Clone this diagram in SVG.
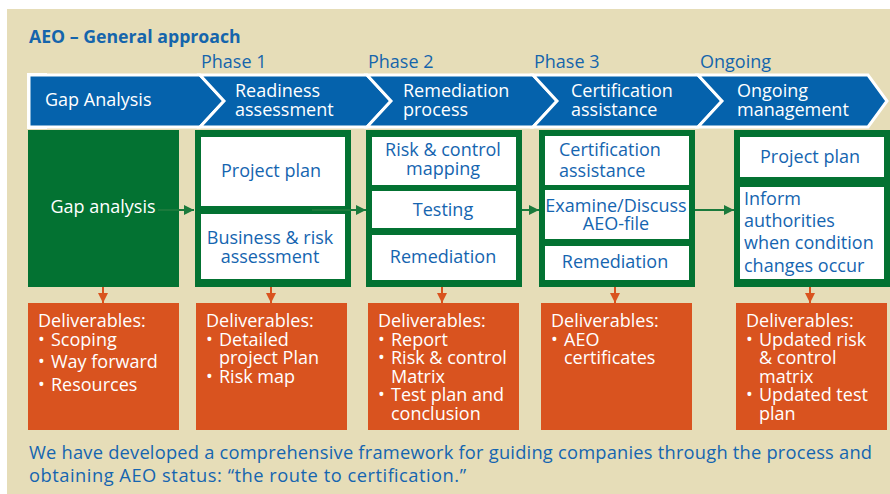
<svg xmlns="http://www.w3.org/2000/svg" width="890" height="494" viewBox="0 0 890 494">
<defs>
<style>
text{font-family:"Open Sans","Noto Sans","Liberation Sans",sans-serif;font-size:18px}
.title{font-weight:bold;fill:#1565ac;font-size:17.7px}
.phase{fill:#1565ac}
.chev{fill:#0562ac;stroke:#fff;stroke-width:3;stroke-linejoin:miter}
.cw{fill:#fff}
.gbox{fill:#037232}
.wbox{fill:#fff}
.bt{fill:#1565b0}
.obox{fill:#d9531f}
.gl{stroke:#1b7a3c;stroke-width:2;fill:none}
.ol{stroke:#d9531f;stroke-width:2;fill:none}
.foot{fill:#1565b0;font-size:18.3px}
</style>
<marker id="ga" viewBox="0 0 10 10" refX="10" refY="5" markerWidth="5" markerHeight="5" orient="auto" markerUnits="strokeWidth"><path d="M0,0 L10,5 L0,10 z" fill="#1b7a3c"/></marker>
<marker id="oa" viewBox="0 0 10 10" refX="10" refY="5" markerWidth="5" markerHeight="5" orient="auto" markerUnits="strokeWidth"><path d="M0,0 L10,5 L0,10 z" fill="#d9531f"/></marker>
</defs>
<rect x="0" y="0" width="890" height="494" fill="#fff"/>
<rect x="7" y="9" width="883" height="485" fill="#e6ddb8"/>
<text class="title" x="29" y="43">AEO – General approach</text>
<g id="phases">
<text class="phase" x="201" y="68">Phase 1</text>
<text class="phase" x="368" y="68">Phase 2</text>
<text class="phase" x="534" y="68">Phase 3</text>
<text class="phase" x="700" y="68">Ongoing</text>
</g>
<g id="chevrons">
<rect x="27" y="73" width="20" height="56" fill="#fff"/>
<g id="c1"><polygon class="chev" points="29,75 200,75 224,101 200,127 29,127"/><text class="cw" x="45" y="106">Gap Analysis</text></g>
<g id="c2"><polygon class="chev" points="200,75 367,75 391,101 367,127 200,127 224,101"/><text class="cw" x="235"><tspan x="235" y="97">Readiness</tspan><tspan x="235" y="116">assessment</tspan></text></g>
<g id="c3"><polygon class="chev" points="367,75 533,75 557,101 533,127 367,127 391,101"/><text class="cw"><tspan x="403" y="97">Remediation</tspan><tspan x="403" y="116">process</tspan></text></g>
<g id="c4"><polygon class="chev" points="533,75 698,75 722,101 698,127 533,127 557,101"/><text class="cw"><tspan x="571" y="97">Certification</tspan><tspan x="571" y="116">assistance</tspan></text></g>
<g id="c5"><polygon class="chev" points="698,75 868,75 887,101 868,127 698,127 722,101"/><text class="cw"><tspan x="737" y="97">Ongoing</tspan><tspan x="737" y="116">management</tspan></text></g>
</g>
<g id="gap">
<rect class="gbox" x="28" y="130" width="151" height="157"/>
<text class="cw" x="103" y="213" text-anchor="middle">Gap analysis</text>
</g>
<g id="phase1">
<rect class="gbox" x="195" y="130" width="156" height="157"/>
<rect class="wbox" x="201" y="137" width="144" height="69"/>
<rect class="wbox" x="201" y="214" width="144" height="65"/>
<text class="bt" x="271" y="177" text-anchor="middle">Project plan</text>
<text class="bt" text-anchor="middle"><tspan x="270" y="244">Business &amp; risk</tspan><tspan x="270" y="263">assessment</tspan></text>
</g>
<g id="phase2">
<rect class="gbox" x="366" y="130" width="156" height="157"/>
<rect class="wbox" x="372" y="137" width="144" height="48"/>
<rect class="wbox" x="372" y="191" width="144" height="37"/>
<rect class="wbox" x="372" y="235" width="144" height="45"/>
<text class="bt" text-anchor="middle"><tspan x="443" y="156">Risk &amp; control</tspan><tspan x="443" y="175">mapping</tspan></text>
<text class="bt" x="443" y="216" text-anchor="middle">Testing</text>
<text class="bt" x="443" y="263" text-anchor="middle">Remediation</text>
</g>
<g id="phase3">
<rect class="gbox" x="539" y="130" width="156" height="157"/>
<rect class="wbox" x="545" y="136" width="144" height="49"/>
<rect class="wbox" x="545" y="190" width="144" height="49"/>
<rect class="wbox" x="545" y="246" width="144" height="34"/>
<text class="bt"><tspan x="559" y="156">Certification</tspan><tspan x="559" y="177">assistance</tspan></text>
<text class="bt" text-anchor="middle"><tspan x="616" y="212">Examine/Discuss</tspan><tspan x="616" y="230">AEO-file</tspan></text>
<text class="bt" x="615" y="268" text-anchor="middle">Remediation</text>
</g>
<g id="ongoing">
<rect class="gbox" x="734" y="130" width="156" height="157"/>
<rect class="wbox" x="740" y="137" width="144" height="40"/>
<rect class="wbox" x="740" y="187" width="144" height="92"/>
<text class="bt" x="810" y="163" text-anchor="middle">Project plan</text>
<text class="bt"><tspan x="744" y="205">Inform</tspan><tspan x="744" y="227">authorities</tspan><tspan x="744" y="249">when condition</tspan><tspan x="744" y="272">changes occur</tspan></text>
</g>
<g id="d1">
<rect class="obox" x="28" y="303" width="151" height="127"/>
<text class="cw"><tspan x="38" y="327">Deliverables:</tspan><tspan x="38" y="346">•</tspan><tspan x="51" y="346">Scoping</tspan><tspan x="38" y="368">•</tspan><tspan x="51" y="368">Way forward</tspan><tspan x="38" y="391">•</tspan><tspan x="51" y="391">Resources</tspan></text>
</g>
<g id="d2">
<rect class="obox" x="196" y="303" width="151" height="127"/>
<text class="cw"><tspan x="206" y="327">Deliverables:</tspan><tspan x="206" y="346">•</tspan><tspan x="219" y="346">Detailed</tspan><tspan x="219" y="364">project Plan</tspan><tspan x="206" y="383">•</tspan><tspan x="219" y="383">Risk map</tspan></text>
</g>
<g id="d3">
<rect class="obox" x="368" y="303" width="151" height="127"/>
<text class="cw"><tspan x="378" y="327">Deliverables:</tspan><tspan x="378" y="346">•</tspan><tspan x="391" y="346">Report</tspan><tspan x="378" y="364">•</tspan><tspan x="391" y="364">Risk &amp; control</tspan><tspan x="391" y="383">Matrix</tspan><tspan x="378" y="401">•</tspan><tspan x="391" y="401">Test plan and</tspan><tspan x="391" y="420">conclusion</tspan></text>
</g>
<g id="d4">
<rect class="obox" x="541" y="303" width="151" height="127"/>
<text class="cw"><tspan x="551" y="327">Deliverables:</tspan><tspan x="551" y="346">•</tspan><tspan x="564" y="346">AEO</tspan><tspan x="564" y="364">certificates</tspan></text>
</g>
<g id="d5">
<rect class="obox" x="736" y="303" width="151" height="127"/>
<text class="cw"><tspan x="746" y="327">Deliverables:</tspan><tspan x="746" y="346">•</tspan><tspan x="759" y="346">Updated risk</tspan><tspan x="759" y="364">&amp; control</tspan><tspan x="759" y="383">matrix</tspan><tspan x="746" y="401">•</tspan><tspan x="759" y="401">Updated test</tspan><tspan x="759" y="420">plan</tspan></text>
</g>
<g id="connectors">
<line class="gl" x1="158" y1="210" x2="194" y2="210" marker-end="url(#ga)"/>
<line class="gl" x1="312" y1="210" x2="366" y2="210" marker-end="url(#ga)"/>
<line class="gl" x1="522" y1="210" x2="539" y2="210" marker-end="url(#ga)"/>
<line class="gl" x1="695" y1="210" x2="734" y2="210" marker-end="url(#ga)"/>
<line class="ol" x1="103" y1="287" x2="103" y2="303" marker-end="url(#oa)"/>
<line class="ol" x1="271" y1="287" x2="271" y2="303" marker-end="url(#oa)"/>
<line class="ol" x1="442" y1="287" x2="442" y2="303" marker-end="url(#oa)"/>
<line class="ol" x1="615" y1="287" x2="615" y2="303" marker-end="url(#oa)"/>
<line class="ol" x1="810" y1="287" x2="810" y2="303" marker-end="url(#oa)"/>
</g>
<text class="foot" x="29" y="459" textLength="843" lengthAdjust="spacing">We have developed a comprehensive framework for guiding companies through the process and</text>
<text class="foot" x="29" y="482" textLength="437" lengthAdjust="spacing">obtaining AEO status: “the route to certification.”</text>
</svg>
